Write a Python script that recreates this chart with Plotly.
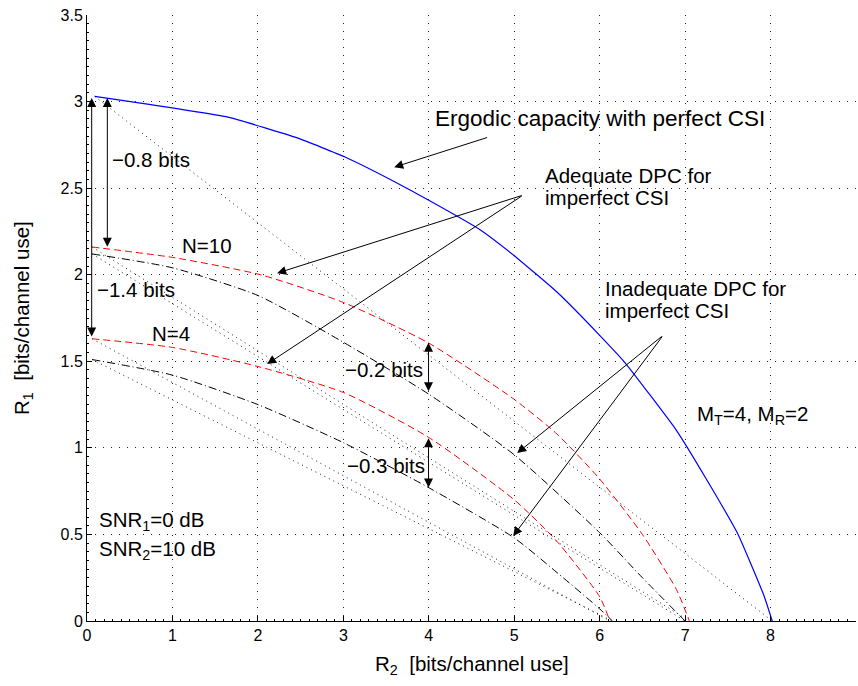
import plotly.graph_objects as go

# ---- data ----
blue_x = [0.09, 1.65, 2.46, 3.02, 3.55, 4.0, 4.6, 5.0, 5.5, 6.0, 6.3, 6.9, 7.26, 7.62, 7.92, 8.02]
blue_y = [3.03, 2.91, 2.79, 2.68, 2.55, 2.43, 2.26, 2.11, 1.90, 1.65, 1.49, 1.10, 0.81, 0.50, 0.15, 0.0]

red10_x = [0.06, 1.0, 2.03, 3.0, 4.0, 5.0, 5.5, 6.0, 6.5, 6.9, 7.05]
red10_y = [2.16, 2.10, 2.00, 1.84, 1.605, 1.28, 1.08, 0.82, 0.50, 0.18, 0.0]

blk10_x = [0.06, 1.0, 2.0, 3.0, 4.0, 5.0, 6.0, 6.5, 7.0]
blk10_y = [2.12, 2.04, 1.88, 1.61, 1.31, 0.96, 0.51, 0.25, 0.0]

red4_x = [0.06, 1.0, 2.0, 3.0, 4.0, 5.0, 5.5, 6.0, 6.12]
red4_y = [1.63, 1.58, 1.47, 1.32, 1.06, 0.70, 0.46, 0.14, 0.0]

blk4_x = [0.06, 1.0, 2.0, 3.0, 4.0, 5.0, 5.5, 6.0, 6.15]
blk4_y = [1.51, 1.42, 1.25, 1.03, 0.77, 0.48, 0.28, 0.07, 0.0]

x_ticks = [0, 1, 2, 3, 4, 5, 6, 7, 8, 9]
y_ticks = [0, 0.5, 1, 1.5, 2, 2.5, 3, 3.5]

FONT = "Liberation Sans, Arial, Helvetica, sans-serif"

fig = go.Figure()

# time-sharing chords (dotted)
for xs, ys in [(blue_x, blue_y), (red10_x, red10_y), (blk10_x, blk10_y),
               (red4_x, red4_y), (blk4_x, blk4_y)]:
    fig.add_trace(go.Scatter(x=[xs[0], xs[-1]], y=[ys[0], ys[-1]], mode="lines",
                             line=dict(color="#222222", width=1, dash="1px,4px"),
                             hoverinfo="skip", showlegend=False))

fig.add_trace(go.Scatter(x=blk4_x, y=blk4_y, mode="lines", line_shape="spline",
                         line=dict(color="black", width=1, dash="8px,3px,1px,3px", smoothing=0.6), showlegend=False))
fig.add_trace(go.Scatter(x=red4_x, y=red4_y, mode="lines", line_shape="spline",
                         line=dict(color="#FF0000", width=1, dash="7px,4px", smoothing=0.6), showlegend=False))
fig.add_trace(go.Scatter(x=blk10_x, y=blk10_y, mode="lines", line_shape="spline",
                         line=dict(color="black", width=1, dash="8px,3px,1px,3px", smoothing=0.6), showlegend=False))
fig.add_trace(go.Scatter(x=red10_x, y=red10_y, mode="lines", line_shape="spline",
                         line=dict(color="#FF0000", width=1, dash="7px,4px", smoothing=0.6), showlegend=False))
fig.add_trace(go.Scatter(x=blue_x, y=blue_y, mode="lines", line_shape="spline",
                         line=dict(color="#0000FF", width=1.2, smoothing=0.4), showlegend=False))

anns = []
TF = dict(family=FONT, size=20.5, color="black")


def txt(x, y, s, xanchor="left", size=20.5):
    anns.append(dict(x=x, y=y, xref="x", yref="y", text=s, showarrow=False,
                     xanchor=xanchor, yanchor="middle",
                     font=dict(family=FONT, size=size, color="black")))


def arrow(tx, ty, hx, hy, both=False):
    d = dict(x=hx, y=hy, ax=tx, ay=ty, xref="x", yref="y", axref="x", ayref="y",
             text="", showarrow=True, arrowhead=2, arrowsize=1.8, arrowwidth=1,
             arrowcolor="black")
    if both:
        d.update(arrowside="end+start", startarrowhead=2, startarrowsize=1.8)
    anns.append(d)


# text labels
txt(0.27, 2.667, "\u22120.8 bits")
txt(0.09, 1.917, "\u22121.4 bits")
txt(1.09, 2.17, "N=10")
txt(0.74, 1.663, "N=4")
txt(3.0, 1.452, "\u22120.2 bits")
txt(3.02, 0.90, "\u22120.3 bits")
txt(4.05, 2.904, "Ergodic capacity with perfect CSI", size=22.5)
txt(5.34, 2.575, "Adequate DPC for")
txt(5.34, 2.448, "imperfect CSI")
txt(6.04, 1.923, "Inadequate DPC for")
txt(6.04, 1.796, "imperfect CSI")
txt(7.12, 1.19, "M<sub>T</sub>=4, M<sub>R</sub>=2")
txt(0.117, 0.575, "SNR<sub>1</sub>=0 dB")
txt(0.117, 0.41, "SNR<sub>2</sub>=10 dB")

# arrows
arrow(4.70, 2.795, 3.595, 2.621)
arrow(5.105, 2.460, 2.225, 2.009)
arrow(5.105, 2.460, 2.108, 1.484)
arrow(6.745, 1.651, 5.035, 0.970)
arrow(6.745, 1.651, 4.988, 0.491)
arrow(0.055, 1.634, 0.055, 3.02, both=True)
arrow(0.238, 2.153, 0.238, 3.02, both=True)
arrow(3.997, 1.318, 3.997, 1.607, both=True)
arrow(3.997, 0.762, 3.997, 1.056, both=True)

# axis titles
anns.append(dict(x=0.5, y=0, xref="paper", yref="paper", yshift=-44,
                 text="R<sub>2</sub>  [bits/channel use]", showarrow=False,
                 xanchor="center", yanchor="middle", font=TF))
anns.append(dict(x=0, y=0.5, xref="paper", yref="paper", xshift=-64,
                 text="R<sub>1</sub>  [bits/channel use]", showarrow=False, textangle=-90,
                 xanchor="center", yanchor="middle", font=TF))

axis_common = dict(showline=True, linecolor="black", linewidth=1, mirror=False,
                   ticks="inside", ticklen=5, tickcolor="black", tickwidth=1,
                   showgrid=True, gridcolor="#222222", gridwidth=1, griddash="1px,7px",
                   zeroline=False, tickfont=dict(family=FONT, size=16, color="black"))

fig.update_layout(
    width=858, height=686,
    margin=dict(l=87, r=2, t=15, b=65),
    paper_bgcolor="white", plot_bgcolor="white",
    showlegend=False,
    annotations=anns,
    xaxis=dict(range=[0, 9], tickvals=x_ticks, ticktext=[str(v) for v in x_ticks],
               minor=dict(ticks="inside", ticklen=2, dtick=0.1, tickcolor="black", showgrid=False),
               **axis_common),
    yaxis=dict(range=[0, 3.5], tickvals=y_ticks, ticktext=[("%g" % v) for v in y_ticks],
               minor=dict(ticks="inside", ticklen=2, dtick=0.05, tickcolor="black", showgrid=False),
               **axis_common),
)

fig.write_html("out.html")
